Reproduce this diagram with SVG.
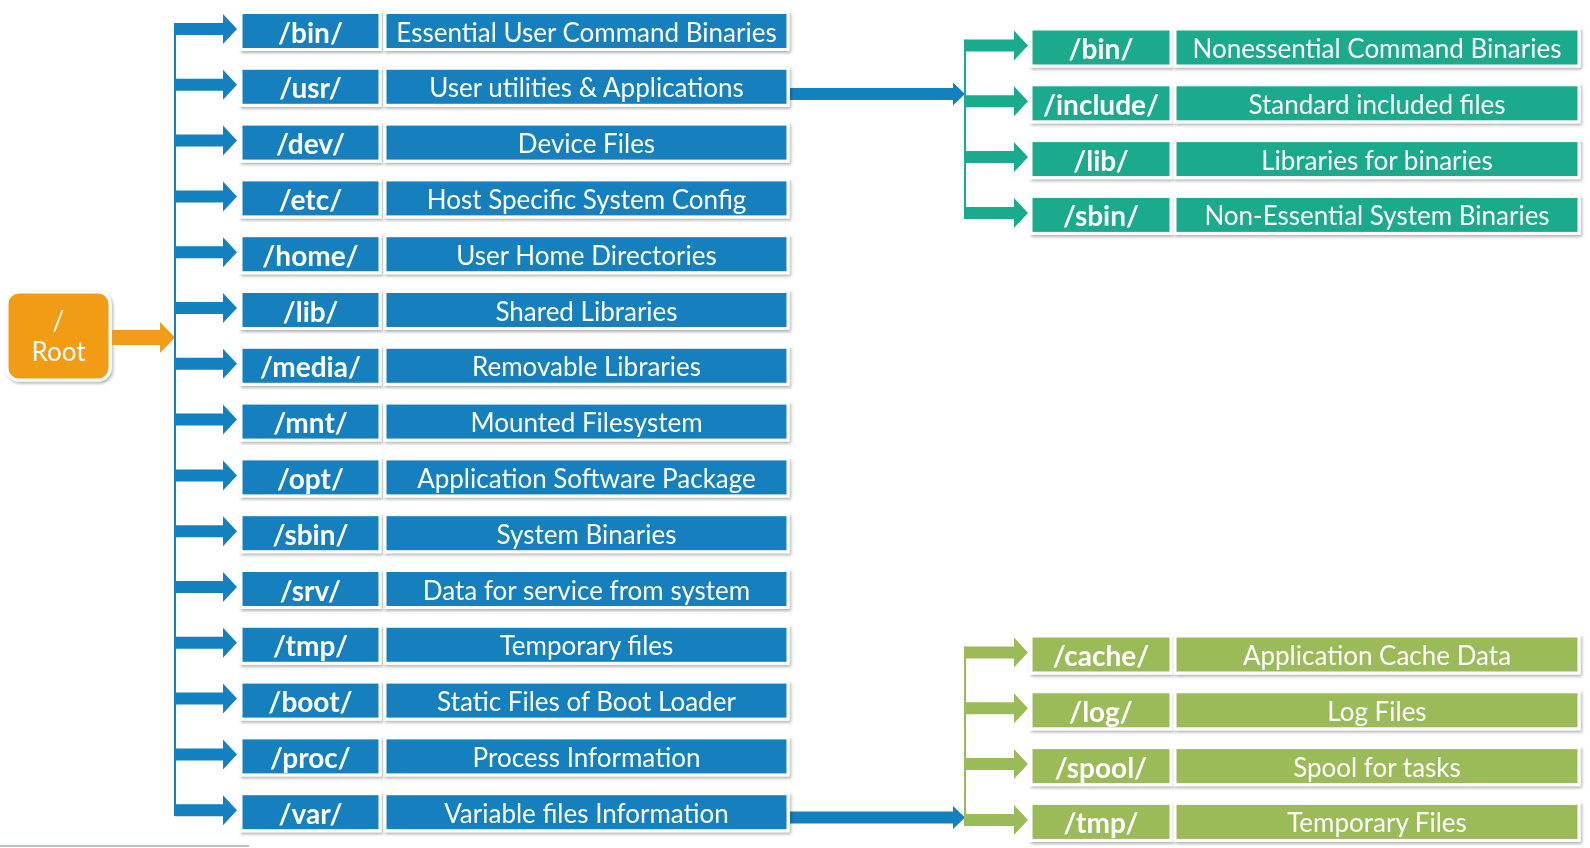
<svg xmlns="http://www.w3.org/2000/svg" xmlns:xlink="http://www.w3.org/1999/xlink" width="1590" height="848" viewBox="0 0 1590 848">
<defs>
<style>
text{font-family:Lato,"Open Sans","Liberation Sans",sans-serif;fill:#fff;text-anchor:middle}
.k{font-size:28px;font-weight:700}
.d{font-size:26px;font-weight:400}
.r{font-size:26px;font-weight:400}
.b{fill:#1380bf}
.t{fill:#1aaa8d}
.g{fill:#9bbb59}
.cell{stroke:#fff;stroke-width:3}
.bx{filter:url(#sh)}
.lb{stroke:#1380bf;stroke-width:2;fill:none}
.lt{stroke:#1aaa8d;stroke-width:2;fill:none}
.lg{stroke:#9bbb59;stroke-width:2;fill:none}
</style>
<filter id="sh" x="-5%" y="-20%" width="110%" height="150%">
<feDropShadow dx="1.5" dy="2" stdDeviation="1.5" flood-color="#000" flood-opacity="0.3"/>
</filter>
<path id="aL" d="M0,-6 H48 V-15 L62,0 L48,15 V6 H0 Z"/>
<path id="aR" d="M0,-6 H49 V-15 L63,0 L49,15 V6 H0 Z"/>
</defs>
<rect width="1590" height="848" fill="#fff"/>

<g id="root" class="bx">
<rect x="7" y="292" width="103" height="88" rx="12" fill="#f29c19" stroke="#fff" stroke-width="3"/>
<text class="r" x="58.5" y="330">/</text>
<text class="r" x="58.5" y="361">Root</text>
</g>

<g id="connectors">
<path d="M112,330 H160 V322 L175,337.5 L160,353 V345 H112 Z" fill="#f29c19"/>
<line class="lb" x1="175" y1="23" x2="175" y2="816"/>
<g class="b">
<use xlink:href="#aL" x="175" y="29"/>
<use xlink:href="#aL" x="175" y="84.8"/>
<use xlink:href="#aL" x="175" y="140.6"/>
<use xlink:href="#aL" x="175" y="196.4"/>
<use xlink:href="#aL" x="175" y="252.2"/>
<use xlink:href="#aL" x="175" y="308"/>
<use xlink:href="#aL" x="175" y="363.8"/>
<use xlink:href="#aL" x="175" y="419.6"/>
<use xlink:href="#aL" x="175" y="475.4"/>
<use xlink:href="#aL" x="175" y="531.2"/>
<use xlink:href="#aL" x="175" y="587"/>
<use xlink:href="#aL" x="175" y="642.8"/>
<use xlink:href="#aL" x="175" y="698.6"/>
<use xlink:href="#aL" x="175" y="754.4"/>
<use xlink:href="#aL" x="175" y="810.2"/>
<path d="M790,88 H953 V82.5 L965,94 L953,105.5 V100 H790 Z"/>
<path d="M790,811.5 H953 V806 L965,817.5 L953,829 V823.5 H790 Z"/>
</g>
<line class="lt" x1="965" y1="39.5" x2="965" y2="219"/>
<g class="t">
<use xlink:href="#aR" x="965" y="45.5"/>
<use xlink:href="#aR" x="965" y="101.3"/>
<use xlink:href="#aR" x="965" y="157.1"/>
<use xlink:href="#aR" x="965" y="212.9"/>
</g>
<line class="lg" x1="965" y1="646.5" x2="965" y2="826"/>
<g class="g">
<use xlink:href="#aR" x="965" y="652.5"/>
<use xlink:href="#aR" x="965" y="708.3"/>
<use xlink:href="#aR" x="965" y="764.1"/>
<use xlink:href="#aR" x="965" y="819.9"/>
</g>
</g>

<g id="n-bin" class="bx"><rect class="cell b" x="241" y="12.5" width="139" height="37"/><rect class="cell b" x="385" y="12.5" width="403" height="37"/><text class="k" x="310.5" y="42.5">/bin/</text><text class="d" x="586.5" y="41.5">Essential User Command Binaries</text></g>
<g id="n-usr" class="bx"><rect class="cell b" x="241" y="68.3" width="139" height="37"/><rect class="cell b" x="385" y="68.3" width="403" height="37"/><text class="k" x="310.5" y="98.3">/usr/</text><text class="d" x="586.5" y="97.3">User utilities &amp; Applications</text></g>
<g id="n-dev" class="bx"><rect class="cell b" x="241" y="124.1" width="139" height="37"/><rect class="cell b" x="385" y="124.1" width="403" height="37"/><text class="k" x="310.5" y="154.1">/dev/</text><text class="d" x="586.5" y="153.1">Device Files</text></g>
<g id="n-etc" class="bx"><rect class="cell b" x="241" y="179.9" width="139" height="37"/><rect class="cell b" x="385" y="179.9" width="403" height="37"/><text class="k" x="310.5" y="209.9">/etc/</text><text class="d" x="586.5" y="208.9">Host Specific System Config</text></g>
<g id="n-home" class="bx"><rect class="cell b" x="241" y="235.7" width="139" height="37"/><rect class="cell b" x="385" y="235.7" width="403" height="37"/><text class="k" x="310.5" y="265.7">/home/</text><text class="d" x="586.5" y="264.7">User Home Directories</text></g>
<g id="n-lib" class="bx"><rect class="cell b" x="241" y="291.5" width="139" height="37"/><rect class="cell b" x="385" y="291.5" width="403" height="37"/><text class="k" x="310.5" y="321.5">/lib/</text><text class="d" x="586.5" y="320.5">Shared Libraries</text></g>
<g id="n-media" class="bx"><rect class="cell b" x="241" y="347.3" width="139" height="37"/><rect class="cell b" x="385" y="347.3" width="403" height="37"/><text class="k" x="310.5" y="377.3">/media/</text><text class="d" x="586.5" y="376.3">Removable Libraries</text></g>
<g id="n-mnt" class="bx"><rect class="cell b" x="241" y="403.1" width="139" height="37"/><rect class="cell b" x="385" y="403.1" width="403" height="37"/><text class="k" x="310.5" y="433.1">/mnt/</text><text class="d" x="586.5" y="432.1">Mounted Filesystem</text></g>
<g id="n-opt" class="bx"><rect class="cell b" x="241" y="458.9" width="139" height="37"/><rect class="cell b" x="385" y="458.9" width="403" height="37"/><text class="k" x="310.5" y="488.9">/opt/</text><text class="d" x="586.5" y="487.9">Application Software Package</text></g>
<g id="n-sbin" class="bx"><rect class="cell b" x="241" y="514.7" width="139" height="37"/><rect class="cell b" x="385" y="514.7" width="403" height="37"/><text class="k" x="310.5" y="544.7">/sbin/</text><text class="d" x="586.5" y="543.7">System Binaries</text></g>
<g id="n-srv" class="bx"><rect class="cell b" x="241" y="570.5" width="139" height="37"/><rect class="cell b" x="385" y="570.5" width="403" height="37"/><text class="k" x="310.5" y="600.5">/srv/</text><text class="d" x="586.5" y="599.5">Data for service from system</text></g>
<g id="n-tmp" class="bx"><rect class="cell b" x="241" y="626.3" width="139" height="37"/><rect class="cell b" x="385" y="626.3" width="403" height="37"/><text class="k" x="310.5" y="656.3">/tmp/</text><text class="d" x="586.5" y="655.3">Temporary files</text></g>
<g id="n-boot" class="bx"><rect class="cell b" x="241" y="682.1" width="139" height="37"/><rect class="cell b" x="385" y="682.1" width="403" height="37"/><text class="k" x="310.5" y="712.1">/boot/</text><text class="d" x="586.5" y="711.1">Static Files of Boot Loader</text></g>
<g id="n-proc" class="bx"><rect class="cell b" x="241" y="737.9" width="139" height="37"/><rect class="cell b" x="385" y="737.9" width="403" height="37"/><text class="k" x="310.5" y="767.9">/proc/</text><text class="d" x="586.5" y="766.9">Process Information</text></g>
<g id="n-var" class="bx"><rect class="cell b" x="241" y="793.7" width="139" height="37"/><rect class="cell b" x="385" y="793.7" width="403" height="37"/><text class="k" x="310.5" y="823.7">/var/</text><text class="d" x="586.5" y="822.7">Variable files Information</text></g>

<g id="n-usr-bin" class="bx"><rect class="cell t" x="1031" y="29" width="140" height="37"/><rect class="cell t" x="1175" y="29" width="404" height="37"/><text class="k" x="1101" y="59">/bin/</text><text class="d" x="1377" y="58">Nonessential Command Binaries</text></g>
<g id="n-usr-include" class="bx"><rect class="cell t" x="1031" y="84.8" width="140" height="37"/><rect class="cell t" x="1175" y="84.8" width="404" height="37"/><text class="k" x="1101" y="114.8">/include/</text><text class="d" x="1377" y="113.8">Standard included files</text></g>
<g id="n-usr-lib" class="bx"><rect class="cell t" x="1031" y="140.6" width="140" height="37"/><rect class="cell t" x="1175" y="140.6" width="404" height="37"/><text class="k" x="1101" y="170.6">/lib/</text><text class="d" x="1377" y="169.6">Libraries for binaries</text></g>
<g id="n-usr-sbin" class="bx"><rect class="cell t" x="1031" y="196.4" width="140" height="37"/><rect class="cell t" x="1175" y="196.4" width="404" height="37"/><text class="k" x="1101" y="226.4">/sbin/</text><text class="d" x="1377" y="225.4">Non-Essential System Binaries</text></g>

<g id="n-var-cache" class="bx"><rect class="cell g" x="1031" y="636" width="140" height="37"/><rect class="cell g" x="1175" y="636" width="404" height="37"/><text class="k" x="1101" y="666">/cache/</text><text class="d" x="1377" y="665">Application Cache Data</text></g>
<g id="n-var-log" class="bx"><rect class="cell g" x="1031" y="691.8" width="140" height="37"/><rect class="cell g" x="1175" y="691.8" width="404" height="37"/><text class="k" x="1101" y="721.8">/log/</text><text class="d" x="1377" y="720.8">Log Files</text></g>
<g id="n-var-spool" class="bx"><rect class="cell g" x="1031" y="747.6" width="140" height="37"/><rect class="cell g" x="1175" y="747.6" width="404" height="37"/><text class="k" x="1101" y="777.6">/spool/</text><text class="d" x="1377" y="776.6">Spool for tasks</text></g>
<g id="n-var-tmp" class="bx"><rect class="cell g" x="1031" y="803.4" width="140" height="37"/><rect class="cell g" x="1175" y="803.4" width="404" height="37"/><text class="k" x="1101" y="833.4">/tmp/</text><text class="d" x="1377" y="832.4">Temporary Files</text></g>

<line x1="0" y1="846" x2="249" y2="846" stroke="#b8c0c8" stroke-width="2"/>
</svg>
